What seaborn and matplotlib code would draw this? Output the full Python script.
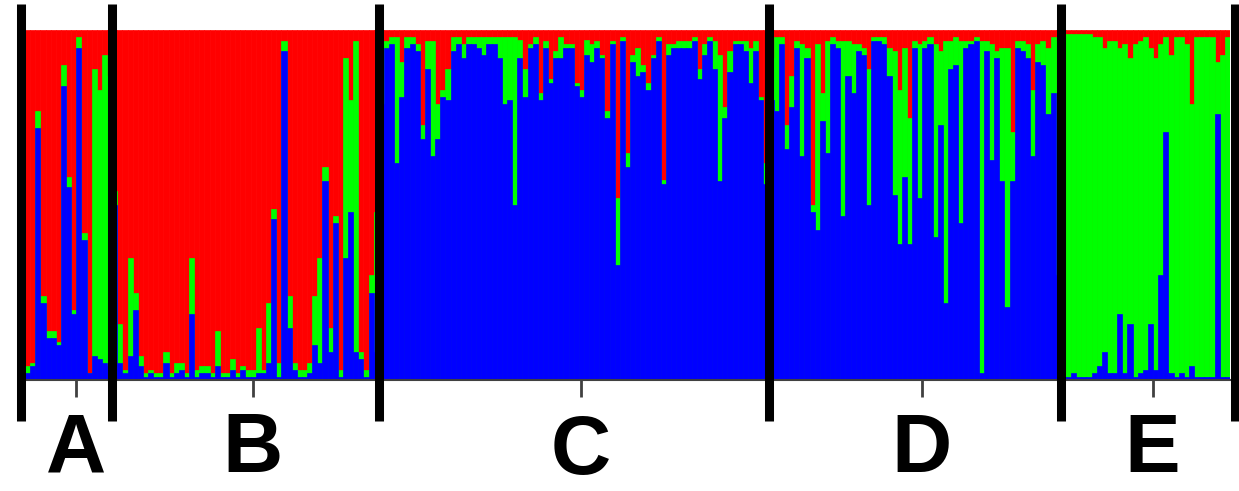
import numpy as np
import pandas as pd
import matplotlib
matplotlib.use("Agg")
import matplotlib.pyplot as plt
import matplotlib.transforms as mtransforms
import seaborn as sns

# ---------------- data (membership %, blue = cluster 1, green = cluster 2, red = rest) -------------
groups = ["A", "B", "C", "D", "E"]

A_blue = [2, 4, 72, 22, 12, 12, 10, 84, 55, 19, 95, 40, 2, 7, 6, 5, 4]
A_green = [2, 1, 5, 2, 2, 2, 1, 6, 3, 1, 3, 2, 0, 82, 77, 88, 83]

B_blue = [50, 5, 2, 7, 20, 4, 1, 2, 1, 1, 5, 1, 2, 3, 1, 19, 1, 2, 2, 1, 4, 1, 1, 3, 1,
          3, 1, 1, 2, 2, 5, 46, 1, 94, 15, 3, 1, 1, 2, 10, 5, 57, 8, 45, 1, 35, 48, 8, 6, 1, 25, 8]
B_green = [4, 11, 1, 28, 5, 3, 1, 1, 1, 1, 3, 1, 3, 2, 1, 16, 2, 2, 2, 1, 10, 1, 1, 3, 1,
           1, 2, 2, 13, 1, 17, 3, 4, 3, 9, 2, 2, 2, 3, 14, 30, 4, 7, 2, 2, 57, 32, 89, 2, 2, 5, 40]

C_blue = [79, 95, 96, 62, 81, 95, 96, 94, 69, 89, 64, 69, 81, 80, 94, 96, 92, 96, 96, 95,
          93, 96, 96, 92, 79, 80, 50, 92, 81, 95, 96, 80, 95, 85, 92, 92, 95, 95, 84,
          81, 93, 91, 95, 92, 75, 96, 33, 97, 61, 91, 87, 88, 83, 92, 97, 56, 93, 95, 95,
          95, 95, 97, 86, 93, 97, 89, 57, 75, 88, 96, 96, 94, 85, 94, 80, 56]
C_green = [18, 2, 2, 36, 10, 3, 2, 2, 4, 8, 33, 10, 2, 9, 4, 2, 4, 2, 2, 3,
           5, 2, 2, 6, 19, 18, 48, 5, 8, 1, 2, 2, 2, 1, 2, 6, 1, 1, 1,
           2, 4, 5, 2, 1, 2, 1, 19, 1, 4, 2, 8, 2, 2, 1, 1, 1, 3, 1, 2,
           2, 2, 1, 3, 3, 1, 8, 36, 3, 6, 1, 1, 3, 10, 3, 1, 6]

D_blue = [80, 77, 96, 66, 78, 95, 64, 92, 48, 43, 74, 65, 96, 95, 47, 87, 82, 94, 93, 50,
          97, 97, 96, 87, 53, 39, 58, 39, 95, 52, 95, 96, 41, 73, 22, 89, 90, 45, 95, 96,
          97, 2, 94, 63, 92, 57, 21, 57, 95, 94, 92, 64, 91, 90, 76, 82, 30]
D_green = [12, 21, 2, 7, 9, 2, 32, 3, 2, 53, 8, 32, 2, 2, 50, 10, 14, 2, 2, 39,
           1, 1, 2, 8, 41, 44, 37, 36, 2, 44, 2, 2, 55, 21, 75, 8, 8, 52, 2, 1,
           1, 95, 3, 33, 2, 38, 74, 14, 2, 3, 4, 19, 5, 7, 19, 16, 67]

E_blue = [1, 1, 2, 1, 1, 1, 2, 4, 8, 2, 2, 19, 2, 16, 1, 2, 3, 16, 3, 30, 71, 2, 1, 2, 1,
          4, 1, 1, 1, 1, 76, 1, 1]
E_green = [98, 98, 97, 98, 98, 98, 96, 94, 87, 95, 95, 76, 94, 76, 95, 95, 95, 79, 89, 66,
           27, 91, 97, 96, 95, 75, 97, 97, 97, 97, 15, 92, 97]

# ---------------- assemble ----------------
blues = [A_blue, B_blue, C_blue, D_blue, E_blue]
greens = [A_green, B_green, C_green, D_green, E_green]
rows = []
for g, bl, gr in zip(groups, blues, greens):
    for b, q in zip(bl, gr):
        rows.append((g, b / 100.0, q / 100.0))
df = pd.DataFrame(rows, columns=["group", "blue", "green"])
df["ind"] = np.arange(len(df))
df["red"] = 1.0 - df["blue"] - df["green"]
df["blue_green"] = df["blue"] + df["green"]
df["total"] = df["blue_green"] + df["red"]
n = len(df)

counts = [len(b) for b in blues]
starts = np.concatenate([[0], np.cumsum(counts)])

RED, GREEN, BLUE = "#FF0000", "#00FF00", "#0000FF"

sns.set_style("white")
plt.rcParams["font.family"] = ["Liberation Sans Narrow", "Liberation Sans", "DejaVu Sans"]

W, H = 1239, 491
fig = plt.figure(figsize=(W / 100, H / 100), dpi=100)
ax = fig.add_axes([25 / W, 111 / H, 1205 / W, 350 / H])

for col, colr in [("total", RED), ("blue_green", GREEN), ("blue", BLUE)]:
    sns.barplot(data=df, x="ind", y=col, color=colr, saturation=1, width=1.0,
                errorbar=None, native_scale=True, edgecolor=colr, linewidth=0.5, ax=ax)

ax.set_xlim(-0.5, n - 0.5)
ax.set_ylim(0, 1)
ax.set_xlabel("")
ax.set_ylabel("")
ax.set_yticks([])
for s in ["left", "right", "top"]:
    ax.spines[s].set_visible(False)
ax.spines["bottom"].set_color("#404040")
ax.spines["bottom"].set_linewidth(1.5)
ax.spines["bottom"].set_zorder(4)

centers = [(starts[i] + starts[i + 1] - 1) / 2 + 1.4 for i in range(len(groups))]
ax.set_xticks(centers)
ax.set_xticklabels([])
ax.tick_params(axis="x", direction="out", length=12, width=2, color="#404040", bottom=True)

# group separators (extend beyond the axes)
sep = list(starts.astype(float) - 0.5)
sep[0] -= 0.7
sep[-1] += 0.9
for x in sep:
    ax.axvline(x, ymin=-0.117, ymax=1.074, color="black", lw=6.5, clip_on=False,
               zorder=6, solid_capstyle="butt")

# group letters
trans = mtransforms.blended_transform_factory(ax.transData, ax.transAxes)
label_y = {"A": -0.2, "B": -0.2, "C": -0.205, "D": -0.2, "E": -0.2}
for g, c in zip(groups, centers):
    ax.text(c, label_y[g], g, transform=trans, ha="center", va="center",
            fontsize=60, fontweight="bold", color="black")

fig.savefig("out.png", dpi=100)
